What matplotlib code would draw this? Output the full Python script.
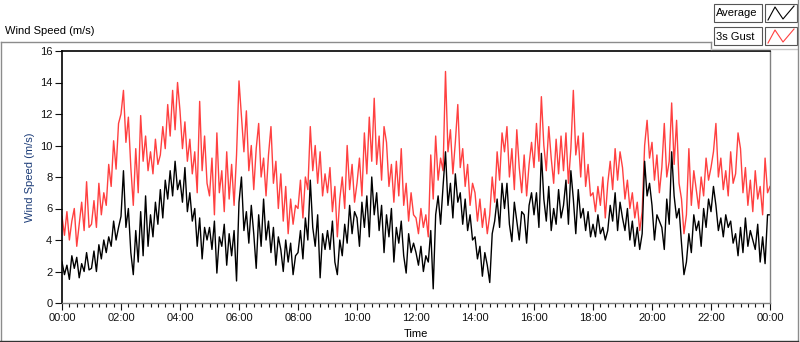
import matplotlib
matplotlib.use("Agg")
import matplotlib.pyplot as plt
import numpy as np

plt.rcParams['font.family'] = ['Liberation Sans', 'DejaVu Sans']

# 5-minute samples, one row per hour (00:00 .. 24:00)
gust = [
    5.5, 4.3, 5.8, 4.0, 5.2, 6.0, 3.6, 5.0, 6.4, 4.6, 7.7, 4.8,
    5.0, 6.5, 4.8, 7.6, 5.6, 7.0, 6.2, 8.8, 7.4, 10.3, 8.5, 11.4,
    12.0, 13.5, 10.2, 11.8, 8.6, 6.2, 9.8, 7.0, 11.9, 9.0, 10.6, 8.4,
    9.6, 8.2, 10.4, 8.8, 9.4, 11.2, 9.8, 12.6, 10.6, 13.5, 11.0, 14.0,
    12.2, 9.8, 11.5, 9.0, 10.4, 8.2, 9.6, 7.0, 12.8, 8.4, 10.6, 7.6,
    6.8, 9.2, 5.6, 10.8, 7.0, 8.4, 5.8, 9.6, 6.6, 8.8, 6.2, 9.4,
    14.1, 11.8, 9.6, 12.2, 8.4, 10.0, 7.2, 9.8, 11.4, 8.0, 9.2, 6.8,
    9.4, 11.2, 7.6, 9.0, 6.0, 8.2, 5.2, 7.4, 4.4, 6.6, 5.0, 6.2,
    6.0, 7.8, 5.4, 8.0, 7.2, 11.2, 8.4, 10.0, 7.6, 9.6, 6.8, 8.2,
    7.0, 8.6, 5.8, 7.4, 4.2, 6.6, 8.0, 6.0, 10.0, 7.2, 8.8, 6.4,
    7.6, 9.2, 6.8, 10.8, 8.2, 11.8, 9.0, 13.0, 8.8, 10.6, 7.8, 11.2,
    10.2, 7.4, 8.8, 6.4, 9.0, 6.8, 9.8, 6.2, 7.6, 5.2, 7.0, 5.6,
    5.4, 4.4, 6.0, 4.8, 5.6, 4.2, 9.4, 6.6, 10.6, 7.8, 9.2, 8.4,
    14.7, 9.6, 11.0, 8.2, 10.2, 12.6, 8.6, 9.8, 7.4, 8.8, 6.2, 7.6,
    7.0, 5.2, 6.6, 4.8, 6.0, 4.4, 5.6, 8.0, 6.4, 9.6, 7.8, 10.8,
    9.6, 11.2, 8.0, 9.8, 7.2, 11.0, 8.6, 7.0, 9.4, 6.8, 8.8, 10.2,
    8.6, 11.4, 9.0, 13.1, 10.0, 8.4, 11.2, 9.2, 7.6, 10.4, 8.2, 10.6,
    8.4, 10.8, 7.6, 9.8, 13.5, 9.4, 10.6, 8.0, 10.8, 7.4, 8.8, 6.8,
    7.0, 5.8, 7.4, 6.2, 8.0, 5.4, 7.6, 9.0, 7.2, 9.8, 7.8, 9.6,
    8.6, 6.6, 7.8, 6.0, 7.0, 5.4, 6.4, 4.6, 5.8, 10.0, 11.6, 9.2,
    10.2, 7.8, 9.4, 7.0, 8.6, 11.4, 8.0, 9.0, 12.7, 8.8, 11.6, 7.6,
    6.6, 4.4, 5.6, 9.8, 6.2, 8.4, 7.2, 6.0, 8.0, 6.8, 9.2, 7.8,
    8.6, 9.6, 11.4, 8.0, 9.2, 7.2, 8.4, 6.8, 9.6, 7.6, 8.2, 10.8,
    9.8, 7.0, 8.6, 6.2, 7.8, 5.8, 8.4, 6.6, 7.4, 5.6, 9.2, 7.0,
    7.4,
]

average = [
    2.6, 1.8, 2.4, 1.5, 3.0, 2.2, 2.9, 1.6, 2.5, 2.0, 3.2, 2.1,
    2.2, 3.3, 2.0, 3.7, 2.8, 4.0, 3.2, 4.2, 3.6, 5.2, 4.0, 4.8,
    5.5, 8.4, 4.8, 6.0, 3.2, 1.8, 4.6, 2.6, 5.8, 3.0, 6.8, 3.6,
    5.6, 4.2, 6.4, 5.0, 7.2, 5.4, 7.8, 6.6, 8.4, 6.8, 9.0, 7.2,
    7.8, 6.4, 8.6, 5.8, 7.0, 5.2, 6.0, 3.6, 5.4, 2.8, 4.8, 4.0,
    4.8, 3.4, 5.2, 1.9, 4.2, 3.6, 5.0, 2.4, 4.4, 3.0, 4.6, 1.4,
    6.4, 8.0, 4.6, 5.8, 3.8, 6.2, 4.4, 2.2, 5.6, 3.6, 6.6, 4.0,
    5.2, 3.2, 4.8, 2.4, 4.2, 3.4, 2.0, 4.0, 2.6, 3.8, 1.8, 3.0,
    3.2, 4.6, 2.8, 5.4, 4.0, 7.8, 4.8, 3.6, 5.6, 1.6, 4.4, 3.4,
    4.6, 3.4, 5.2, 2.6, 1.8, 4.0, 3.0, 5.0, 3.8, 6.2, 4.4, 5.8,
    5.4, 3.6, 6.4, 4.8, 6.8, 4.2, 8.0, 5.6, 7.0, 4.6, 6.2, 3.2,
    5.6, 4.2, 6.0, 2.6, 4.8, 3.8, 5.2, 3.0, 1.9, 4.4, 3.2, 3.8,
    3.2, 2.4, 3.6, 2.0, 3.0, 2.6, 4.6, 0.9, 5.6, 6.8, 5.0, 7.4,
    9.6, 6.2, 7.6, 5.4, 8.2, 6.4, 7.0, 5.0, 6.6, 4.6, 5.6, 4.0,
    4.2, 2.8, 3.6, 1.7, 3.2, 2.4, 1.3, 4.4, 5.2, 6.6, 4.8, 7.6,
    6.0, 7.6, 5.0, 3.9, 6.4, 5.2, 4.0, 5.8, 5.6, 3.8, 6.2, 7.0,
    5.6, 7.0, 4.8, 9.5, 6.6, 5.2, 7.4, 4.6, 6.0, 5.0, 7.2, 5.4,
    6.2, 7.8, 5.0, 8.4, 6.6, 4.4, 7.2, 5.4, 6.0, 4.6, 5.8, 4.2,
    5.0, 4.2, 5.6, 4.4, 4.8, 4.0, 4.6, 6.2, 5.2, 7.0, 4.6, 6.4,
    5.4, 4.6, 6.0, 4.0, 5.2, 3.6, 4.8, 3.4, 4.4, 9.0, 6.8, 7.6,
    6.2, 4.0, 5.6, 5.2, 4.8, 3.4, 6.6, 5.0, 9.6, 6.8, 5.4, 6.0,
    3.8, 1.8, 2.6, 4.4, 3.2, 5.6, 4.6, 5.2, 3.6, 6.0, 4.8, 6.6,
    5.8, 7.4, 6.2, 4.6, 5.4, 4.2, 5.6, 4.8, 5.2, 3.8, 4.4, 3.0,
    4.8, 3.2, 5.4, 3.6, 4.6, 4.0, 3.4, 5.0, 2.6, 4.2, 2.5, 5.6,
    5.6,
]

hour_ticks = list(range(0, 25, 2))
hour_labels = ["00:00", "02:00", "04:00", "06:00", "08:00", "10:00", "12:00",
               "14:00", "16:00", "18:00", "20:00", "22:00", "00:00"]
speed_ticks = list(range(0, 17, 2))

W, H = 800, 342
times = np.arange(len(gust)) * 5 / 60.0

fig = plt.figure(figsize=(W / 100, H / 100), dpi=100)
fig.patch.set_facecolor("white")

# plot area in pixel terms: x 62..770, y 51..303
ax = fig.add_axes([62 / W, (H - 303) / H, (770 - 62) / W, (303 - 51) / H])
ax.plot(times, gust, color="#ff4040", lw=1.0, label="3s Gust")
ax.plot(times, average, color="black", lw=1.0, label="Average")
ax.set_xlim(0, 24)
ax.set_ylim(0, 16)
ax.set_xticks(hour_ticks, hour_labels)
ax.set_xticks(np.arange(0, 24.01, 0.25), minor=True)
ax.set_yticks(speed_ticks)
ax.tick_params(axis="both", which="major", length=5, width=0.8, labelsize=8,
               pad=2, colors="#111111")
ax.tick_params(axis="x", which="minor", length=3, width=0.8, color="#111111")
for side in ("top", "left"):
    ax.spines[side].set_color("black")
    ax.spines[side].set_linewidth(1.2)
for side in ("bottom", "right"):
    ax.spines[side].set_color("#808080")
    ax.spines[side].set_linewidth(1.0)

# overlay in pixel coordinates for the panel frame, labels and legend
ov = fig.add_axes([0, 0, 1, 1])
ov.set_xlim(0, W)
ov.set_ylim(H, 0)
ov.axis("off")

ov.text(5, 31, "Wind Speed (m/s)", fontsize=8, va="center", ha="left")
ov.text(30, 177, "Wind Speed (m/s)", fontsize=8, rotation=90,
        va="center", ha="center", color="#1c3c78")
ov.text(416, 334, "Time", fontsize=8, va="center", ha="center")

frame = "#8c8c8c"
ov.plot([0.5, 711], [42, 42], color=frame, lw=1)
ov.plot([711, 711], [42, 49], color=frame, lw=1)
ov.plot([711, 797], [49, 49], color="#c8c8c8", lw=1)
ov.plot([797.5, 797.5], [0, 341], color=frame, lw=1)
ov.plot([0.5, 0.5], [42, 341], color=frame, lw=1)
ov.plot([0, 798], [340.5, 340.5], color="#333333", lw=1)

legend_rows = [("Average", "black", 4), ("3s Gust", "#ff4040", 27)]
for name, col, top in legend_rows:
    ov.add_patch(plt.Rectangle((714, top), 48, 18, facecolor="white",
                               edgecolor="#555555", lw=0.8))
    ov.add_patch(plt.Rectangle((765, top), 32, 18, facecolor="white",
                               edgecolor="#555555", lw=0.8))
    ov.text(716, top + 9.5, name, fontsize=8, va="center", ha="left")
    ov.plot([768, 775, 783, 794], [top + 16, top + 3, top + 15, top + 2],
            color=col, lw=0.8)

fig.savefig("out.png", dpi=100)
